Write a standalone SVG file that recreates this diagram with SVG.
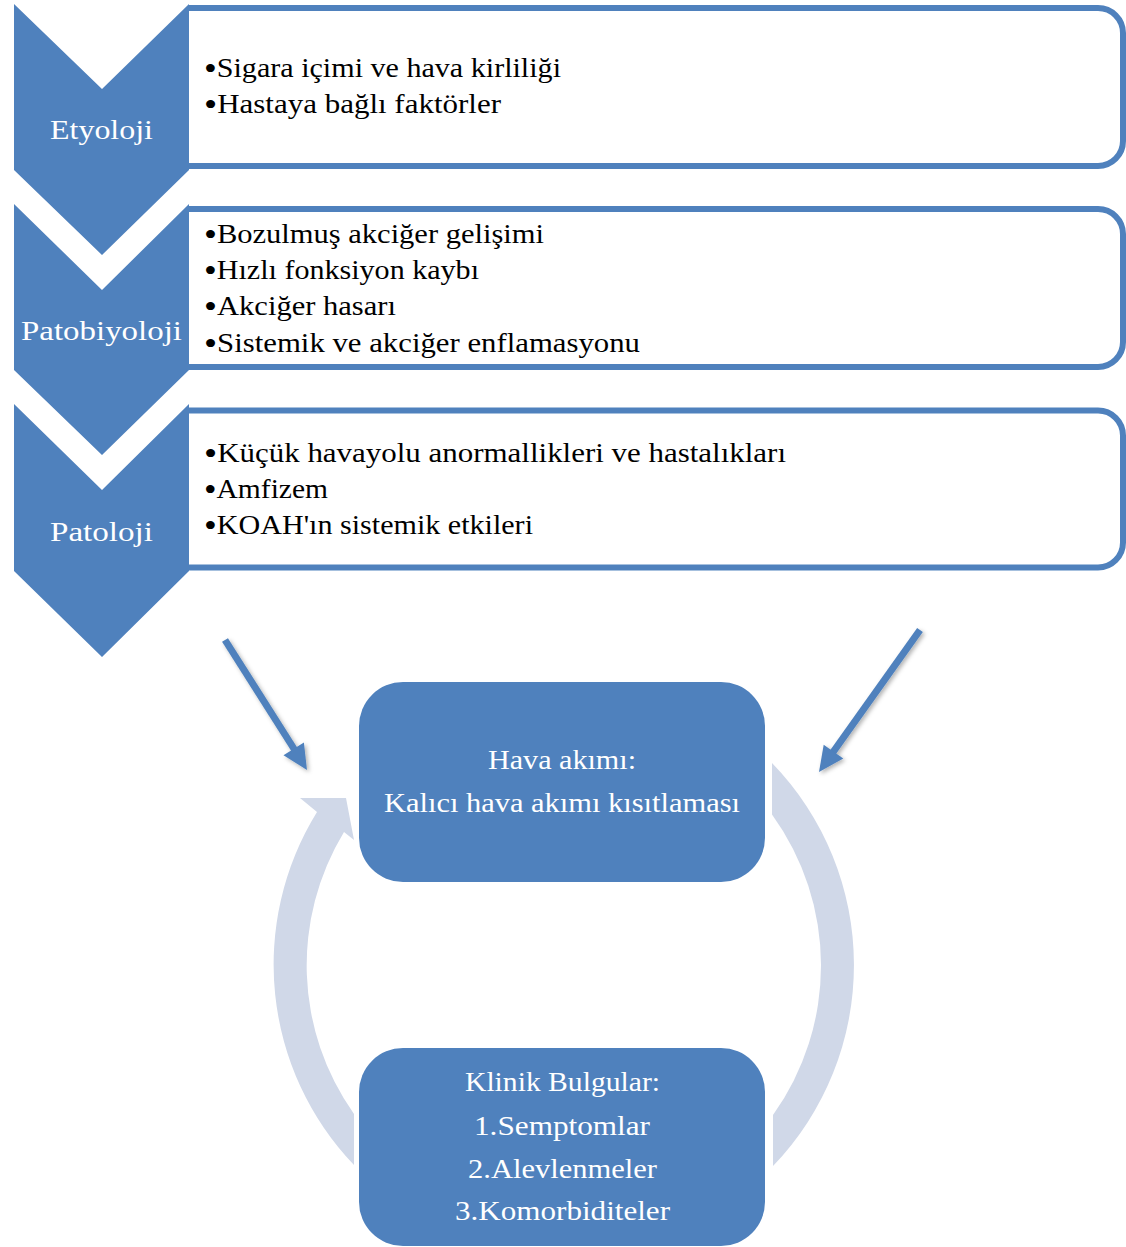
<svg xmlns="http://www.w3.org/2000/svg" width="1126" height="1247" viewBox="0 0 1126 1247">
<defs>
<style>
.chev{fill:#4F81BD;}
.box{fill:#FFFFFF;stroke:#4F81BD;stroke-width:6;}
.rbox{fill:#4F81BD;}
.ring{fill:#D0D8E8;}
.bt{font-family:"Liberation Serif","Times New Roman",serif;font-size:28px;fill:#000000;}
.bu{font-size:34px;}
.wt{font-family:"Liberation Serif","Times New Roman",serif;font-size:28px;fill:#FFFFFF;}
.arr{stroke:#4F81BD;stroke-width:7;fill:none;}
.head{fill:#4F81BD;}
</style>
<filter id="sh" x="-20%" y="-20%" width="140%" height="140%">
<feDropShadow dx="2" dy="2" stdDeviation="2" flood-color="#000000" flood-opacity="0.3"/>
</filter>
</defs>
<rect x="0" y="0" width="1126" height="1247" fill="#FFFFFF"/>

<g id="connectors">
<path class="ring" d="M 354 1165 A 290 290 0 0 1 317 812 L 300 798 L 346 798 L 354 840 L 344 832 A 257 257 0 0 0 354 1114 Z"/>
<path class="ring" d="M 772 763 A 290 290 0 0 1 773 1166 L 773 1115 A 257 257 0 0 0 772 814.5 Z"/>
<g filter="url(#sh)">
<line class="arr" x1="225" y1="640" x2="296" y2="752"/>
<polygon class="head" points="307,770 283.5,755.3 303.9,742.5"/>
<line class="arr" x1="920" y1="630" x2="831" y2="755"/>
<polygon class="head" points="819,772 823.7,744.7 843.3,758.5"/>
</g>
</g>

<g id="box-etyoloji">
<path class="box" d="M 189 8 H 1098 A 25 25 0 0 1 1123 33 V 141 A 25 25 0 0 1 1098 166 H 189"/>
<text class="bt" x="204" y="77" textLength="357" lengthAdjust="spacingAndGlyphs"><tspan class="bu" dy="3">•</tspan><tspan dy="-3">Sigara içimi ve hava kirliliği</tspan></text>
<text class="bt" x="204" y="113" textLength="297" lengthAdjust="spacingAndGlyphs"><tspan class="bu" dy="3">•</tspan><tspan dy="-3">Hastaya bağlı faktörler</tspan></text>
</g>
<g id="chev-etyoloji">
<polygon class="chev" points="14,4 102,89 189,4 189,170 102,255 14,170"/>
<text class="wt" x="50" y="139" textLength="103" lengthAdjust="spacingAndGlyphs">Etyoloji</text>
</g>

<g id="box-patobiyoloji">
<path class="box" d="M 189 209 H 1098 A 25 25 0 0 1 1123 234 V 342 A 25 25 0 0 1 1098 367 H 189"/>
<text class="bt" x="204" y="243" textLength="340" lengthAdjust="spacingAndGlyphs"><tspan class="bu" dy="3">•</tspan><tspan dy="-3">Bozulmuş akciğer gelişimi</tspan></text>
<text class="bt" x="204" y="279" textLength="275" lengthAdjust="spacingAndGlyphs"><tspan class="bu" dy="3">•</tspan><tspan dy="-3">Hızlı fonksiyon kaybı</tspan></text>
<text class="bt" x="204" y="315" textLength="192" lengthAdjust="spacingAndGlyphs"><tspan class="bu" dy="3">•</tspan><tspan dy="-3">Akciğer hasarı</tspan></text>
<text class="bt" x="204" y="352" textLength="436" lengthAdjust="spacingAndGlyphs"><tspan class="bu" dy="3">•</tspan><tspan dy="-3">Sistemik ve akciğer enflamasyonu</tspan></text>
</g>
<g id="chev-patobiyoloji">
<polygon class="chev" points="14,204 102,290 189,204 189,370 102,455 14,370"/>
<text class="wt" x="21" y="340" textLength="161" lengthAdjust="spacingAndGlyphs">Patobiyoloji</text>
</g>

<g id="box-patoloji">
<path class="box" d="M 189 410.5 H 1098 A 25 25 0 0 1 1123 435.5 V 542.5 A 25 25 0 0 1 1098 567.5 H 189"/>
<text class="bt" x="204" y="462" textLength="582" lengthAdjust="spacingAndGlyphs"><tspan class="bu" dy="3">•</tspan><tspan dy="-3">Küçük havayolu anormallikleri ve hastalıkları</tspan></text>
<text class="bt" x="204" y="498" textLength="124" lengthAdjust="spacingAndGlyphs"><tspan class="bu" dy="3">•</tspan><tspan dy="-3">Amfizem</tspan></text>
<text class="bt" x="204" y="534" textLength="329" lengthAdjust="spacingAndGlyphs"><tspan class="bu" dy="3">•</tspan><tspan dy="-3">KOAH'ın sistemik etkileri</tspan></text>
</g>
<g id="chev-patoloji">
<polygon class="chev" points="14,404 102,490 189,404 189,571 102,657 14,571"/>
<text class="wt" x="50" y="541" textLength="103" lengthAdjust="spacingAndGlyphs">Patoloji</text>
</g>

<g id="node-hava-akimi">
<rect class="rbox" x="359" y="682" width="406" height="200" rx="44" ry="44"/>
<text class="wt" x="488" y="769" textLength="148" lengthAdjust="spacingAndGlyphs">Hava akımı:</text>
<text class="wt" x="384" y="812" textLength="356" lengthAdjust="spacingAndGlyphs">Kalıcı hava akımı kısıtlaması</text>
</g>

<g id="node-klinik-bulgular">
<rect class="rbox" x="359" y="1048" width="406" height="198" rx="44" ry="44"/>
<text class="wt" x="465" y="1091" textLength="195" lengthAdjust="spacingAndGlyphs">Klinik Bulgular:</text>
<text class="wt" x="474" y="1135" textLength="176" lengthAdjust="spacingAndGlyphs">1.Semptomlar</text>
<text class="wt" x="468" y="1178" textLength="189" lengthAdjust="spacingAndGlyphs">2.Alevlenmeler</text>
<text class="wt" x="455" y="1220" textLength="215" lengthAdjust="spacingAndGlyphs">3.Komorbiditeler</text>
</g>
</svg>
